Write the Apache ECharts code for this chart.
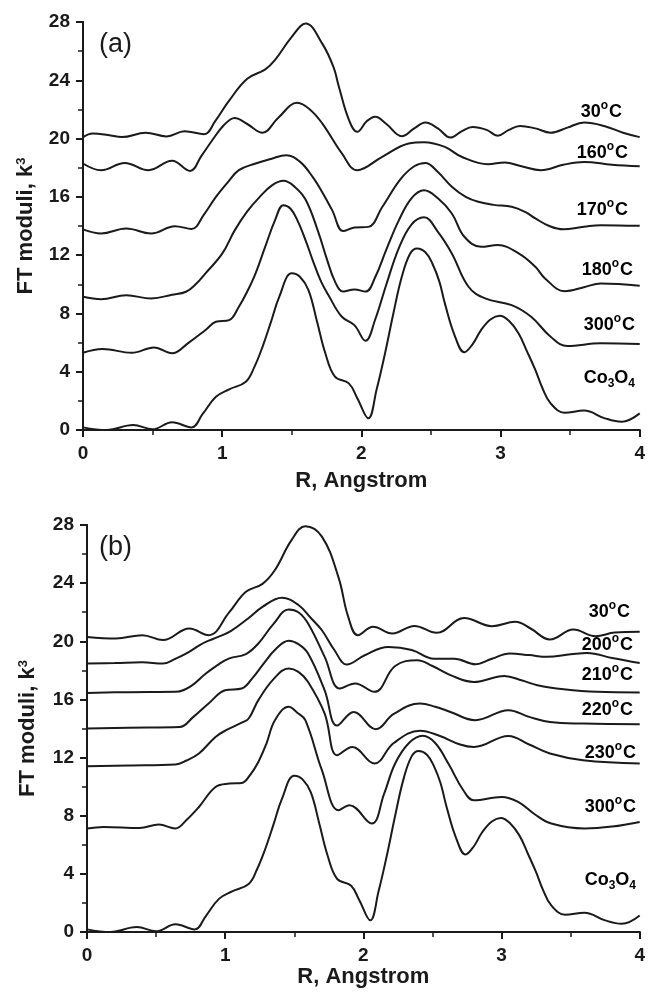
<!DOCTYPE html>
<html>
<head>
<meta charset="utf-8">
<script src="https://cdn.jsdelivr.net/npm/echarts@6/dist/echarts.min.js"></script>
<style>
    html, body { margin: 0; padding: 0; background: #fff; }
    #chart { width: 648px; height: 992px; }
</style>
</head>
<body>
<div id="chart"></div>
<script>
// [R (Angstrom), FT modulus]
const co3o4 = [[0, 0.18], [0.17, 0], [0.36, 0.34], [0.5, 0.05], [0.64, 0.53], [0.78, 0.18], [0.86, 1.1], [0.955, 2.28],
    [1.05, 2.79], [1.17, 3.31], [1.23, 4.3], [1.29, 5.71], [1.35, 7.4], [1.41, 9.14], [1.5, 10.75], [1.56, 10.5],
    [1.62, 9.6], [1.68, 7.5], [1.74, 5.3], [1.81, 3.66], [1.91, 3.2], [1.97, 2.2], [2.05, 0.8], [2.11, 2.8],
    [2.17, 5.26], [2.23, 8.0], [2.29, 10.5], [2.35, 12.1], [2.4, 12.46], [2.46, 12.2], [2.51, 11.43], [2.56, 10.2],
    [2.6, 8.69], [2.67, 6.5], [2.74, 5.33], [2.8, 5.9], [2.86, 6.86], [2.93, 7.6], [2.995, 7.84], [3.06, 7.5],
    [3.13, 6.63], [3.19, 5.4], [3.25, 4.12], [3.3, 2.9], [3.36, 1.83], [3.46, 1.19], [3.6, 1.33], [3.75, 0.8],
    [3.87, 0.57], [4.0, 1.14]];

// panel (a)
const a30 = [[0, 20.1], [0.07, 20.35], [0.18, 20.25], [0.28, 20.1], [0.45, 20.4], [0.6, 20.15], [0.73, 20.5], [0.87, 20.3],
    [0.95, 21.2], [1.05, 22.6], [1.18, 24.1], [1.31, 24.75], [1.38, 25.4], [1.5, 26.98], [1.6, 27.9], [1.72, 26.5],
    [1.8, 24.9], [1.84, 23.5], [1.91, 21.3], [1.97, 20.46], [2.04, 21.2], [2.1, 21.5], [2.18, 21.0], [2.29, 20.16],
    [2.38, 20.7], [2.46, 21.1], [2.55, 20.7], [2.64, 20.07], [2.72, 20.5], [2.8, 20.8], [2.9, 20.6], [2.98, 20.2],
    [3.06, 20.6], [3.14, 20.87], [3.25, 20.7], [3.36, 20.4], [3.48, 20.75], [3.6, 21.1], [3.75, 20.85], [3.88, 20.4], [4.0, 20.1]];
const a160 = [[0, 18.29], [0.13, 17.83], [0.3, 18.33], [0.47, 17.83], [0.64, 18.47], [0.77, 17.78], [0.85, 18.8], [0.93, 19.9],
    [1.01, 20.9], [1.09, 21.42], [1.18, 21.0], [1.29, 20.4], [1.4, 21.4], [1.54, 22.45], [1.63, 22.0], [1.72, 21.03],
    [1.86, 18.98], [1.97, 17.83], [2.15, 18.75], [2.34, 19.66], [2.45, 19.75], [2.6, 19.43], [2.72, 18.75], [2.91, 18.24],
    [3.03, 18.36], [3.15, 18.1], [3.29, 17.83], [3.45, 18.2], [3.6, 18.4], [3.8, 18.2], [4.0, 18.1]];
const a170 = [[0, 13.77], [0.13, 13.49], [0.31, 13.83], [0.49, 13.49], [0.66, 13.99], [0.78, 13.8], [0.87, 14.8], [0.955, 16.0],
    [1.04, 17.0], [1.12, 17.83], [1.24, 18.29], [1.35, 18.6], [1.46, 18.86], [1.56, 18.4], [1.65, 17.37], [1.72, 16.3],
    [1.79, 15.09], [1.87, 13.65], [1.95, 13.9], [2.05, 13.94], [2.15, 15.3], [2.28, 17.2], [2.38, 18.1], [2.46, 18.33],
    [2.55, 17.7], [2.65, 16.7], [2.75, 16.0], [2.84, 15.66], [2.95, 15.45], [3.08, 15.32], [3.18, 14.95], [3.25, 14.52],
    [3.35, 14.0], [3.45, 13.77], [3.6, 13.95], [3.72, 14.06], [4.0, 14.01]];
const a180 = [[0, 9.14], [0.13, 8.98], [0.31, 9.24], [0.49, 9.03], [0.64, 9.28], [0.74, 9.49], [0.81, 10.0], [0.88, 10.75],
    [1.0, 12.1], [1.09, 13.7], [1.18, 15.0], [1.27, 16.0], [1.36, 16.8], [1.44, 17.1], [1.52, 16.7], [1.6, 15.8],
    [1.69, 13.6], [1.75, 11.8], [1.81, 10.2], [1.87, 9.5], [1.95, 9.65], [2.03, 9.5], [2.1, 10.5], [2.18, 12.4],
    [2.27, 14.4], [2.36, 15.9], [2.45, 16.45], [2.55, 15.9], [2.65, 14.86], [2.74, 13.26], [2.86, 12.57], [2.98, 12.69],
    [3.13, 12.12], [3.25, 11.2], [3.32, 10.4], [3.46, 9.53], [3.6, 9.8], [3.72, 10.06], [4.0, 9.9]];
const a300 = [[0, 5.3], [0.14, 5.56], [0.35, 5.3], [0.51, 5.67], [0.64, 5.26], [0.76, 6.0], [0.88, 6.86], [0.955, 7.43],
    [1.05, 7.54], [1.12, 8.46], [1.18, 9.5], [1.24, 10.75], [1.31, 12.6], [1.38, 14.4], [1.44, 15.43], [1.49, 15.2],
    [1.54, 14.4], [1.6, 13.0], [1.65, 11.66], [1.71, 10.2], [1.77, 9.14], [1.86, 7.77], [1.95, 7.2], [2.03, 6.12],
    [2.1, 7.6], [2.18, 10.0], [2.27, 12.5], [2.36, 14.1], [2.45, 14.6], [2.55, 13.6], [2.65, 12.12], [2.77, 9.83],
    [2.89, 9.03], [3.08, 8.57], [3.22, 7.77], [3.36, 6.4], [3.48, 5.76], [3.72, 5.95], [4.0, 5.9]];

// panel (b)
const b30 = [[0, 20.3], [0.21, 20.19], [0.4, 20.42], [0.55, 20.08], [0.74, 20.88], [0.88, 20.42], [1.03, 22.0], [1.15, 23.4],
    [1.27, 23.95], [1.36, 24.9], [1.48, 26.96], [1.58, 27.92], [1.7, 27.2], [1.82, 24.4], [1.89, 21.7], [1.96, 20.42],
    [2.07, 21.0], [2.21, 20.54], [2.37, 21.06], [2.53, 20.58], [2.73, 21.6], [2.93, 21.04], [3.1, 21.34], [3.21, 20.88],
    [3.35, 20.12], [3.52, 20.81], [3.68, 20.35], [3.82, 20.6], [4.0, 20.65]];
const b200 = [[0, 18.47], [0.2, 18.5], [0.4, 18.55], [0.55, 18.47], [0.64, 18.8], [0.72, 19.16], [0.81, 19.7], [0.86, 19.96],
    [0.95, 20.3], [1.04, 20.7], [1.17, 21.6], [1.27, 22.37], [1.41, 23.0], [1.53, 22.5], [1.62, 21.6], [1.7, 20.76],
    [1.79, 19.4], [1.88, 18.4], [2.01, 19.04], [2.18, 19.6], [2.35, 19.4], [2.51, 18.8], [2.66, 18.8], [2.81, 18.42],
    [2.93, 18.8], [3.06, 19.16], [3.2, 19.05], [3.33, 18.93], [3.5, 19.1], [3.62, 19.2], [3.8, 18.85], [4.0, 18.5]];
const b210 = [[0, 16.45], [0.3, 16.5], [0.64, 16.52], [0.75, 16.9], [0.86, 17.78], [0.95, 18.4], [1.03, 18.82], [1.15, 19.12],
    [1.24, 19.85], [1.35, 21.2], [1.46, 22.19], [1.53, 22.0], [1.6, 21.22], [1.72, 18.93], [1.83, 16.75], [1.94, 17.1],
    [2.08, 16.52], [2.23, 18.3], [2.39, 18.7], [2.5, 18.3], [2.63, 17.67], [2.8, 17.2], [3.02, 17.62], [3.15, 17.3],
    [3.26, 16.98], [3.45, 16.7], [3.69, 16.52], [4.0, 16.48]];
const b220 = [[0, 14.0], [0.3, 14.05], [0.67, 14.1], [0.77, 14.8], [0.88, 15.72], [1.0, 16.63], [1.12, 16.75], [1.2, 17.5],
    [1.27, 18.36], [1.37, 19.5], [1.46, 20.03], [1.53, 19.8], [1.6, 19.16], [1.72, 16.63], [1.81, 14.2], [1.93, 15.14],
    [2.09, 13.95], [2.22, 15.0], [2.41, 15.72], [2.52, 15.5], [2.63, 15.14], [2.81, 14.57], [3.05, 15.26], [3.2, 14.8],
    [3.35, 14.45], [3.59, 14.34], [4.0, 14.3]];
const b230 = [[0, 11.4], [0.3, 11.45], [0.64, 11.52], [0.72, 11.8], [0.81, 12.28], [0.93, 13.42], [1.01, 13.9], [1.12, 14.4],
    [1.17, 14.69], [1.24, 15.95], [1.35, 17.4], [1.46, 18.13], [1.53, 17.9], [1.6, 17.2], [1.72, 15.03], [1.81, 12.16],
    [1.92, 12.73], [2.08, 11.59], [2.22, 13.0], [2.41, 13.85], [2.55, 13.5], [2.7, 12.9], [2.8, 12.73], [3.05, 13.49],
    [3.2, 12.9], [3.35, 12.28], [3.59, 11.82], [4.0, 11.59]];
const b300 = [[0, 7.12], [0.12, 7.23], [0.38, 7.16], [0.52, 7.39], [0.64, 7.12], [0.72, 7.7], [0.81, 8.6], [0.93, 9.98],
    [1.03, 10.21], [1.12, 10.25], [1.18, 10.8], [1.24, 11.7], [1.3, 13.0], [1.36, 14.57], [1.46, 15.49], [1.52, 15.1],
    [1.58, 14.57], [1.7, 11.13], [1.82, 8.38], [1.9, 8.72], [2.06, 7.46], [2.15, 9.5], [2.23, 11.59], [2.33, 13.0],
    [2.43, 13.5], [2.52, 13.0], [2.62, 11.5], [2.72, 9.8], [2.8, 9.06], [3.0, 9.29], [3.12, 8.95], [3.24, 8.1],
    [3.36, 7.46], [3.6, 7.12], [3.8, 7.25], [4.0, 7.57]];

const xTicks = [0, 1, 2, 3, 4];
const yTicks = [0, 4, 8, 12, 16, 20, 24, 28];

const FONT = "'Liberation Sans', Arial, sans-serif";
const INK = '#1a1a1a';

const chart = echarts.init(document.getElementById('chart'));

const labelRich = {
    n: { fontSize: 18, fontWeight: 'bold', fontFamily: FONT, color: INK, lineHeight: 20 },
    sup: { fontSize: 12, fontWeight: 'bold', fontFamily: FONT, color: INK, padding: [0, 1, 13, 0] },
    sub: { fontSize: 12, fontWeight: 'bold', fontFamily: FONT, color: INK, padding: [12, 0, 0, 0] }
};
const deg = t => `{n|${t}}{sup|o}{n|C}`;
const co = '{n|Co}{sub|3}{n|O}{sub|4}';

// curve labels, pixel anchor = right edge / middle
const labels = [
    { text: deg('30'), x: 622, y: 112 },
    { text: deg('160'), x: 628, y: 153 },
    { text: deg('170'), x: 628, y: 210 },
    { text: deg('180'), x: 633, y: 270 },
    { text: deg('300'), x: 635, y: 325 },
    { text: co, x: 635, y: 378 },
    { text: deg('30'), x: 630, y: 612 },
    { text: deg('200'), x: 633, y: 645 },
    { text: deg('210'), x: 633, y: 675 },
    { text: deg('220'), x: 633, y: 710 },
    { text: deg('230'), x: 636, y: 753 },
    { text: deg('300'), x: 636, y: 807 },
    { text: co, x: 636, y: 880 }
];

function xAxes(grid, gap) {
    const base = {
        gridIndex: grid, type: 'value', min: xTicks[0], max: xTicks[xTicks.length - 1], interval: 1,
        splitLine: { show: false },
        axisLine: { lineStyle: { color: INK, width: 2 } },
        minorTick: { show: true, splitNumber: 2, length: 4, lineStyle: { color: INK, width: 1.5 } }
    };
    return [{
        ...base,
        position: 'bottom',
        axisTick: { inside: false, length: 7, lineStyle: { color: INK, width: 2 } },
        axisLabel: { margin: 14, fontSize: 19, fontWeight: 'bold', fontFamily: FONT, color: INK },
        name: 'R, Angstrom',
        nameLocation: 'middle',
        nameGap: gap,
        nameTextStyle: { fontSize: 22, fontWeight: 'bold', fontFamily: FONT, color: INK }
    }, {
        ...base,
        position: 'top',
        axisTick: { inside: true, length: 5, lineStyle: { color: INK, width: 1.5 } },
        minorTick: { show: true, splitNumber: 2, length: 5, lineStyle: { color: INK, width: 1.5 } },
        axisLabel: { show: false }
    }];
}

function yAxes(grid, gap) {
    const base = {
        gridIndex: grid, type: 'value', min: yTicks[0], max: yTicks[yTicks.length - 1], interval: 4,
        splitLine: { show: false },
        axisLine: { show: true, lineStyle: { color: INK, width: 2 } }
    };
    return [{
        ...base,
        position: 'left',
        axisTick: { inside: false, length: 7, lineStyle: { color: INK, width: 2 } },
        minorTick: { show: true, splitNumber: 2, length: 4, lineStyle: { color: INK, width: 1.5 } },
        axisLabel: { margin: 13, fontSize: 19, fontWeight: 'bold', fontFamily: FONT, color: INK },
        name: 'FT moduli, k{s|3}',
        nameLocation: 'middle',
        nameGap: gap,
        nameTextStyle: {
            fontSize: 22, fontWeight: 'bold', fontFamily: FONT, color: INK,
            rich: { s: { fontSize: 13, fontWeight: 'bold', fontFamily: FONT, color: INK, verticalAlign: 'top' } }
        }
    }, {
        ...base,
        position: 'right',
        axisTick: { inside: true, length: 5, lineStyle: { color: INK, width: 1.5 } },
        minorTick: { show: true, splitNumber: 2, length: 5, lineStyle: { color: INK, width: 1.5 } },
        axisLabel: { show: false }
    }];
}

function line(data, axis) {
    return {
        type: 'line', data, xAxisIndex: axis, yAxisIndex: axis,
        smooth: 0.4, symbol: 'none', silent: true,
        lineStyle: { color: INK, width: 2 }
    };
}

const option = {
    animation: false,
    backgroundColor: '#fff',
    grid: [
        { left: 83, top: 22, width: 559, height: 408 },
        { left: 87, top: 525, width: 556, height: 407 }
    ],
    xAxis: [...xAxes(0, 40), ...xAxes(1, 28)],
    yAxis: [...yAxes(0, 46), ...yAxes(1, 48)],
    series: [
        ...[a30, a160, a170, a180, a300, co3o4].map(d => line(d, 0)),
        ...[b30, b200, b210, b220, b230, b300, co3o4].map(d => line(d, 2))
    ],
    graphic: [
        { type: 'text', x: 99, y: 45, style: { text: '(a)', fontSize: 27, fontFamily: FONT, fill: INK, verticalAlign: 'middle' } },
        { type: 'text', x: 99, y: 548, style: { text: '(b)', fontSize: 27, fontFamily: FONT, fill: INK, verticalAlign: 'middle' } },
        ...labels.map(l => ({
            type: 'text', x: l.x, y: l.y,
            style: { text: l.text, rich: labelRich, align: 'right', verticalAlign: 'middle' }
        }))
    ]
};

chart.setOption(option);
</script>
</body>
</html>
